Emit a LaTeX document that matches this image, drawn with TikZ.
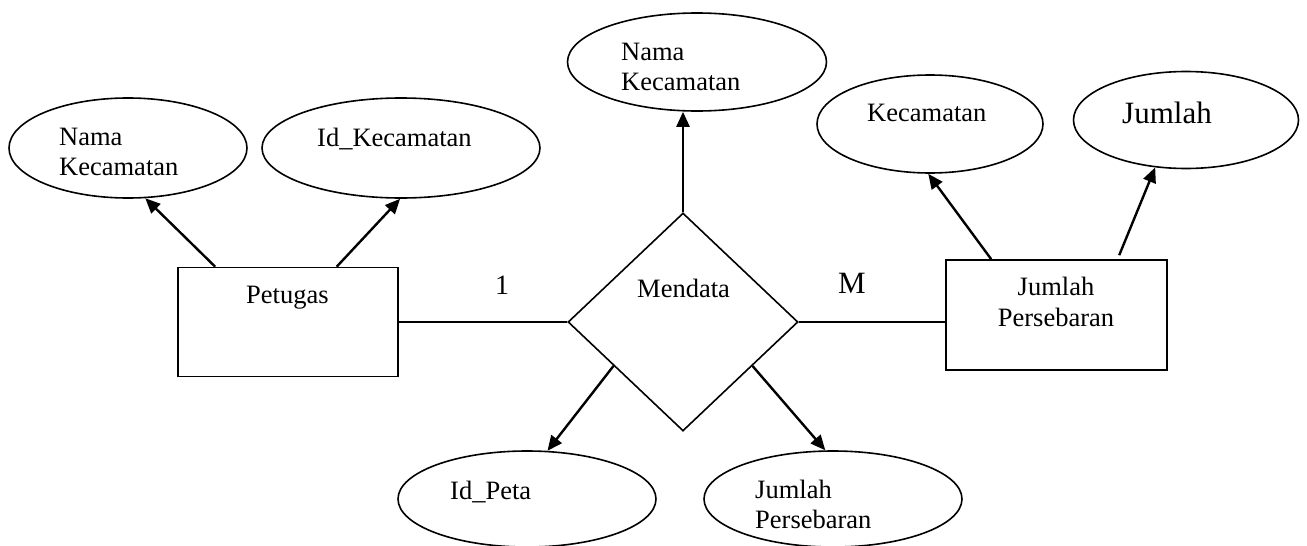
\documentclass[tikz,border=0pt]{standalone}
\usepackage{fontspec}
\setmainfont{Liberation Serif}
\usetikzlibrary{shapes.geometric,arrows.meta,calc}
\begin{document}
\begin{tikzpicture}[x=1pt,y=-1pt,
  ent/.style={draw, rectangle, line width=1.6pt, inner sep=0},
  attr/.style={draw, ellipse, line width=1.6pt, inner sep=0},
  rel/.style={draw, diamond, line width=1.6pt, inner sep=0},
  txt/.style={inner sep=0, anchor=base west, font=\fontsize{26.5}{30}\selectfont},
  bigtxt/.style={inner sep=0, anchor=base west, font=\fontsize{31}{36}\selectfont},
  arr/.style={line width=2.4pt, -{Triangle[length=15pt,width=13pt]}},
  ln/.style={line width=1.6pt}]
\useasboundingbox (0,0) rectangle (1307,546);

% entities
\node[ent, minimum width=220pt, minimum height=109pt] (pet) at (288,322) {};
\node[ent, minimum width=221pt, minimum height=110pt] (jp) at (1056.5,315) {};
% relationship
\node[rel, minimum width=230pt, minimum height=218pt] (dia) at (683,322) {};
% attributes
\node[attr, minimum width=238pt, minimum height=100pt] (nkA) at (128,148) {};
\node[attr, minimum width=278pt, minimum height=100pt] (idK) at (401,148) {};
\node[attr, minimum width=259pt, minimum height=98pt] (nkC) at (697,62) {};
\node[attr, minimum width=226pt, minimum height=98pt] (kec) at (930,124) {};
\node[attr, minimum width=225pt, minimum height=97pt] (jml) at (1186,120) {};
\node[attr, minimum width=258pt, minimum height=96pt] (idP) at (527,499) {};
\node[attr, minimum width=258pt, minimum height=96pt] (jpB) at (833,499) {};

% texts
\node[txt] (tA1) at (59,145) {Nama};
\node[txt] (tA2) at (59,175) {Kecamatan};
\node[txt] (tB) at (317,146) {Id\_Kecamatan};
\node[txt] (tC1) at (621,60) {Nama};
\node[txt] (tC2) at (621,90) {Kecamatan};
\node[txt] (tD) at (867,121) {Kecamatan};
\node[bigtxt] (tE) at (1122,123) {Jumlah};
\node[txt] (tPet) at (246,303) {Petugas};
\node[txt] (tMen) at (637,297) {Mendata};
\node[inner sep=0, anchor=base west, font=\fontsize{28}{32}\selectfont] (t1) at (495,294) {1};
\node[bigtxt] (tM) at (838,293) {M};
\node[txt, anchor=base] (tJ1) at (1056,295) {Jumlah};
\node[txt, anchor=base] (tJ2) at (1056,326) {Persebaran};
\node[txt] (tF) at (450,499) {Id\_Peta};
\node[txt] (tG1) at (755,498) {Jumlah};
\node[txt] (tG2) at (755,528) {Persebaran};

% connectors
\draw[ln] (pet.east) -- (dia.west);
\draw[ln] (dia.east) -- (dia.east -| jp.west);
\draw[arr] ([xshift=38pt]pet.north west) -- (nkA.-71);
\draw[arr] ([xshift=159.5pt]pet.north west) -- (idK.-91);
\draw[arr] (dia.north) -- (dia.north |- nkC.south);
\draw[arr] ([xshift=46pt]jp.north west) -- (kec.-92);
\draw[arr] ([xshift=174pt,yshift=4pt]jp.north west) -- (jml.-123);
\draw[arr] ($(dia.west)!0.4!(dia.south)$) -- (idP.67);
\draw[arr] ($(dia.east)!0.4!(dia.south)$) -- (jpB.99);
\end{tikzpicture}
\end{document}
